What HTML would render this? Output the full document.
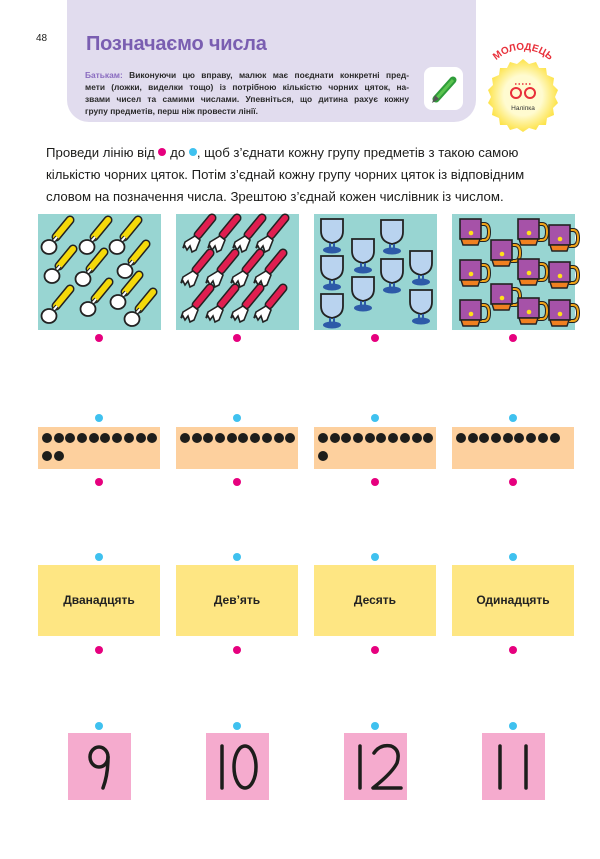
<!DOCTYPE html>
<html><head><meta charset="utf-8">
<style>
*{margin:0;padding:0;box-sizing:border-box}
body{width:600px;height:859px;background:#fff;position:relative;overflow:hidden;font-family:"Liberation Sans","DejaVu Sans",sans-serif;color:#1d1d1b}
.abs{position:absolute}
.panel{left:67px;top:-20px;width:409px;height:142px;background:#e1dcee;border-radius:0 0 22px 22px}
.title{left:86px;top:33px;font-size:20px;font-weight:bold;color:#7a5eb1;letter-spacing:-0.2px}
.body{left:85px;top:69px;width:324px;font-size:8.4px;font-weight:bold;line-height:12px;color:#2a2a2a}
.body span{display:block;text-align:justify;text-align-last:justify;white-space:nowrap}
.body span.l{text-align-last:left}
.body b{color:#8a6cc0}
.pencil{left:424px;top:67px;width:39px;height:43px;background:#fff;border-radius:8px}
.instr{left:46px;top:142px;width:520px;font-size:13.2px;line-height:22px;color:#1d1d1b}
.dot{position:absolute;width:8px;height:8px;border-radius:50%}
.m{background:#e6007e}.c{background:#3fc1ef}
.pic{position:absolute;top:214px;width:123px;height:116px;background:#98d5d2}
.peach{position:absolute;top:427px;width:122px;height:42px;background:#fdd09e;padding:6px 0 0 4px}
.peach i{display:inline-block;width:10px;height:10px;border-radius:50%;background:#1d1d1b;margin-right:1.7px;vertical-align:top;margin-bottom:3px}
.yel{position:absolute;top:565px;width:122px;height:71px;background:#fee683;font-size:12px;font-weight:bold;text-align:center;line-height:71px;color:#222}
.pink{position:absolute;top:733px;width:63px;height:67px;background:#f5abce}
</style></head><body>
<div class="abs" style="left:36px;top:33px;font-size:10px">48</div>
<div class="abs panel"></div>
<div class="abs title">Позначаємо числа</div>
<div class="abs body"><span><b>Батькам:</b> Виконуючи цю вправу, малюк має поєднати конкретні пред-</span><span>мети (ложки, виделки тощо) із потрібною кількістю чорних цяток, на-</span><span>звами чисел та самими числами. Упевніться, що дитина рахує кожну</span><span class="l">групу предметів, перш ніж провести лінії.</span></div>
<div class="abs pencil"><svg width="39" height="43"><line x1="12" y1="32" x2="29" y2="13" stroke="#2f9d3a" stroke-width="7" stroke-linecap="round"/><line x1="12" y1="32" x2="29" y2="13" stroke="#5cc450" stroke-width="3"/><polygon points="8,36 11,28 15,32" fill="#555"/></svg></div>
<svg class="abs" style="left:477px;top:40px" width="92" height="96" viewBox="0 0 92 96">
<defs><path id="arc" d="M10,36 A37,34 0 0 1 82,36"/><radialGradient id="g"><stop offset="0.55" stop-color="#fffbd0"/><stop offset="1" stop-color="#fde34a"/></radialGradient></defs>
<g transform="translate(46,55)">
<polygon points="0,-36 6,-31 13,-33 16,-27 23,-27 24,-20 31,-17 30,-10 35,-5 32,2 35,8 30,13 31,20 24,23 23,30 16,30 13,35 6,33 0,37 -6,33 -13,35 -16,30 -23,30 -24,23 -31,20 -30,13 -35,8 -32,2 -35,-5 -30,-10 -31,-17 -24,-20 -23,-27 -16,-27 -13,-33 -6,-31" fill="url(#g)"/>
<circle cx="-7" cy="-2" r="5" fill="none" stroke="#e8303a" stroke-width="2"/><circle cx="7" cy="-2" r="5" fill="none" stroke="#e8303a" stroke-width="2"/>
<path d="M-8,-11 h16" stroke="#e8303a" stroke-width="1.5" stroke-dasharray="1.5 2"/>
<text x="0" y="15" font-size="6.5" text-anchor="middle" fill="#333" font-family="Liberation Sans">Наліпка</text>
</g>
<text font-size="10" font-weight="bold" fill="#e8303a" font-family="Liberation Sans"><textPath href="#arc" startOffset="50%" text-anchor="middle">МОЛОДЕЦЬ</textPath></text>
</svg>
<div class="abs instr">Проведи лінію від <span class="dot m" style="position:relative;display:inline-block;top:-1px"></span> до <span class="dot c" style="position:relative;display:inline-block;top:-1px"></span>, щоб з’єднати кожну групу предметів з такою самою кількістю чорних цяток. Потім з’єднай кожну групу чорних цяток із відповідним словом на позначення числа. Зрештою з’єднай кожен числівник із числом.</div>

<svg width="0" height="0" style="position:absolute"><defs>
<g id="sp"><line x1="6" y1="-8" x2="20" y2="-25" stroke="#222" stroke-width="9" stroke-linecap="round"/><line x1="6" y1="-8" x2="20" y2="-25" stroke="#f5d90a" stroke-width="6" stroke-linecap="round"/><line x1="0" y1="0" x2="7" y2="-8" stroke="#222" stroke-width="4"/><line x1="0" y1="0" x2="7" y2="-8" stroke="#fff" stroke-width="2"/><ellipse cx="-1" cy="2" rx="7.5" ry="7" fill="#fff" stroke="#222" stroke-width="1.8"/></g>
<g id="fk"><line x1="5" y1="-9" x2="19" y2="-26" stroke="#222" stroke-width="9" stroke-linecap="round"/><line x1="5" y1="-9" x2="19" y2="-26" stroke="#e01e50" stroke-width="6" stroke-linecap="round"/><path d="M-8,-2 L2,-8 L7,-4 L3,6 L-1,8 L-3,2 L-6,6 L-8,2 L-10,4 Z" fill="#fff" stroke="#222" stroke-width="1.6"/></g>
<g id="gl"><path d="M-11,0 h22 v12 q0,10 -11,12 q-11,-2 -11,-12 Z" fill="#b9d3ef" stroke="#222" stroke-width="1.8"/><path d="M-2,24 v4 M2,24 v4" stroke="#2d5aa8" stroke-width="2"/><ellipse cx="0" cy="31" rx="9" ry="3.5" fill="#2d5aa8"/></g>
<g id="cp"><path d="M10,-6 h4 q5,0 5,8 q0,8 -5,8 h-4" fill="none" stroke="#222" stroke-width="4"/><path d="M10,-6 h4 q5,0 5,8 q0,8 -5,8 h-4" fill="none" stroke="#f0a418" stroke-width="2"/><rect x="-10" y="-11" width="21" height="20" fill="#a652a8" stroke="#222" stroke-width="1.6"/><path d="M-9,9 h19 l-2,6 h-15 Z" fill="#f08020" stroke="#222" stroke-width="1.4"/><circle cx="1" cy="3" r="2.3" fill="#ffe01a"/></g>
</defs></svg>

<div class="pic" style="left:38px"></div>
<div class="pic" style="left:176px"></div>
<div class="pic" style="left:314px"></div>
<div class="pic" style="left:452px"></div>
<svg class="abs" style="left:0;top:0" width="600" height="340">
<use href="#sp" x="50" y="245"/><use href="#sp" x="88" y="245"/><use href="#sp" x="118" y="245"/>
<use href="#sp" x="53" y="274"/><use href="#sp" x="84" y="277"/><use href="#sp" x="126" y="269"/>
<use href="#sp" x="50" y="314"/><use href="#sp" x="89" y="307"/><use href="#sp" x="119" y="300"/><use href="#sp" x="133" y="317"/>
<use href="#fk" x="193" y="244"/><use href="#fk" x="218" y="244"/><use href="#fk" x="243" y="244"/><use href="#fk" x="266" y="244"/>
<use href="#fk" x="191" y="279"/><use href="#fk" x="216" y="279"/><use href="#fk" x="241" y="279"/><use href="#fk" x="264" y="279"/>
<use href="#fk" x="191" y="314"/><use href="#fk" x="216" y="314"/><use href="#fk" x="241" y="314"/><use href="#fk" x="264" y="314"/>
<use href="#gl" x="332" y="219"/><use href="#gl" x="332" y="256"/><use href="#gl" x="332" y="294"/>
<use href="#gl" x="363" y="239"/><use href="#gl" x="363" y="277"/>
<use href="#gl" x="392" y="220"/><use href="#gl" x="392" y="259"/>
<use href="#gl" x="421" y="251"/><use href="#gl" x="421" y="290"/>
<use href="#cp" x="470" y="230"/><use href="#cp" x="528" y="230"/><use href="#cp" x="559" y="236"/>
<use href="#cp" x="501" y="251"/><use href="#cp" x="470" y="271"/><use href="#cp" x="528" y="270"/><use href="#cp" x="559" y="273"/>
<use href="#cp" x="501" y="295"/><use href="#cp" x="470" y="311"/><use href="#cp" x="528" y="309"/><use href="#cp" x="559" y="311"/>
</svg>

<div class="dot m" style="left:95px;top:334px"></div><div class="dot m" style="left:233px;top:334px"></div><div class="dot m" style="left:371px;top:334px"></div><div class="dot m" style="left:509px;top:334px"></div>
<div class="dot c" style="left:95px;top:414px"></div><div class="dot c" style="left:233px;top:414px"></div><div class="dot c" style="left:371px;top:414px"></div><div class="dot c" style="left:509px;top:414px"></div>

<div class="peach" style="left:38px"><i></i><i></i><i></i><i></i><i></i><i></i><i></i><i></i><i></i><i></i><i></i><i></i></div>
<div class="peach" style="left:176px"><i></i><i></i><i></i><i></i><i></i><i></i><i></i><i></i><i></i><i></i></div>
<div class="peach" style="left:314px"><i></i><i></i><i></i><i></i><i></i><i></i><i></i><i></i><i></i><i></i><i></i></div>
<div class="peach" style="left:452px"><i></i><i></i><i></i><i></i><i></i><i></i><i></i><i></i><i></i></div>

<div class="dot m" style="left:95px;top:478px"></div><div class="dot m" style="left:233px;top:478px"></div><div class="dot m" style="left:371px;top:478px"></div><div class="dot m" style="left:509px;top:478px"></div>
<div class="dot c" style="left:95px;top:553px"></div><div class="dot c" style="left:233px;top:553px"></div><div class="dot c" style="left:371px;top:553px"></div><div class="dot c" style="left:509px;top:553px"></div>

<div class="yel" style="left:38px">Дванадцять</div>
<div class="yel" style="left:176px">Дев’ять</div>
<div class="yel" style="left:314px">Десять</div>
<div class="yel" style="left:452px">Одинадцять</div>

<div class="dot m" style="left:95px;top:646px"></div><div class="dot m" style="left:233px;top:646px"></div><div class="dot m" style="left:371px;top:646px"></div><div class="dot m" style="left:509px;top:646px"></div>
<div class="dot c" style="left:95px;top:722px"></div><div class="dot c" style="left:233px;top:722px"></div><div class="dot c" style="left:371px;top:722px"></div><div class="dot c" style="left:509px;top:722px"></div>

<div class="pink" style="left:68px"></div><div class="pink" style="left:206px"></div><div class="pink" style="left:344px"></div><div class="pink" style="left:482px"></div>
<svg class="abs" style="left:0;top:733px" width="600" height="67" fill="none" stroke="#1d1d1b" stroke-width="3.5" stroke-linecap="round" stroke-linejoin="round">
<ellipse cx="99" cy="24" rx="9" ry="10"/><path d="M108,24 Q108,42 103,55"/>
<path d="M222,13 V55"/><ellipse cx="245" cy="34" rx="11" ry="21"/>
<path d="M360,13 V55"/><path d="M374,20 Q380,11 391,13 Q401,17 397,30 Q392,40 373,55 H401"/>
<path d="M500,13 V55"/><path d="M526,13 V55"/>
</svg>
</body></html>
